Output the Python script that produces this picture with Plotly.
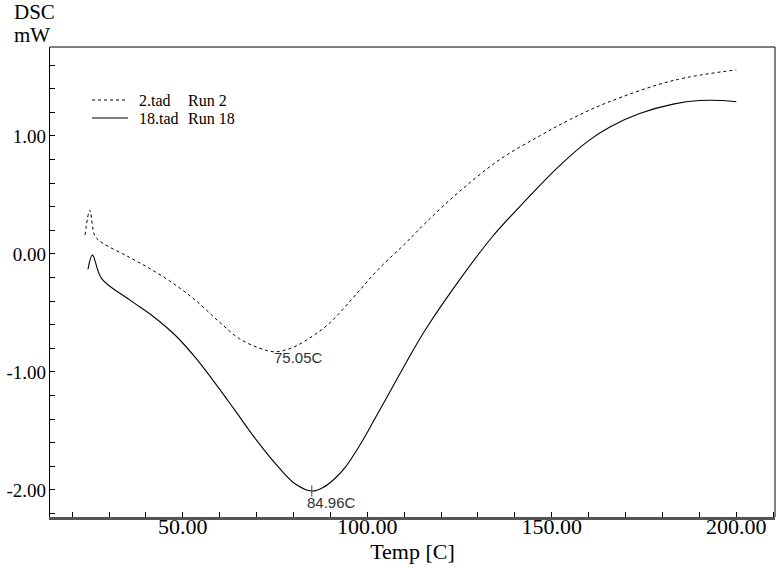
import plotly.graph_objects as go

# DSC curves
temp_run2 = [23.5, 24.8, 26.2, 28.4, 35.6, 41.9, 48.3, 53.7, 60.0, 65.4, 70.9, 75.05, 80.0,
             85.0, 90.0, 96.2, 103.0, 110.0, 116.0, 125.0, 135.9, 146.7, 155.0, 164.8, 182.9, 200.0]
dsc_run2 = [0.16, 0.37, 0.15, 0.09, -0.03, -0.14, -0.27, -0.40, -0.58, -0.72, -0.80, -0.83, -0.79,
            -0.70, -0.58, -0.37, -0.13, 0.08, 0.27, 0.53, 0.80, 1.00, 1.14, 1.28, 1.47, 1.56]

temp_run18 = [24.3, 25.5, 28.0, 35.6, 42.0, 48.3, 53.7, 59.1, 64.0, 70.0, 76.3, 80.5, 84.96, 88.0,
              91.0, 94.0, 98.0, 102.0, 107.0, 112.0, 116.0, 125.0, 134.0, 143.1, 152.2, 160.0, 166.0,
              173.8, 182.9, 190.0, 196.4, 200.0]
dsc_run18 = [-0.13, -0.01, -0.21, -0.39, -0.53, -0.70, -0.89, -1.11, -1.32, -1.58, -1.82, -1.95, -2.01,
             -1.98, -1.91, -1.81, -1.62, -1.40, -1.12, -0.84, -0.63, -0.22, 0.15, 0.46, 0.75, 0.96, 1.08,
             1.19, 1.27, 1.30, 1.30, 1.29]

peak_temps = [75.05, 84.96]
peak_vals = [-0.83, -2.01]
peak_labels = ['75.05C', '84.96C']

y_ticks = [-2, -1, 0, 1]
y_ticktext = ['-2.00', '-1.00', '0.00', '1.00']

legend_files = ['2.tad', '18.tad']
legend_runs = ['Run 2', 'Run 18']

serif = 'Liberation Serif'
sans = 'Liberation Sans'

fig = go.Figure()
fig.add_trace(go.Scatter(x=temp_run2, y=dsc_run2, mode='lines', line_shape='spline',
                         showlegend=False, line=dict(color='black', width=1, dash='dot')))
fig.add_trace(go.Scatter(x=temp_run18, y=dsc_run18, mode='lines', line_shape='spline',
                         showlegend=False, line=dict(color='black', width=1.1)))
fig.add_trace(go.Scatter(x=peak_temps[1:], y=peak_vals[1:], mode='markers', showlegend=False,
                         marker=dict(symbol='line-ns', size=8, line=dict(color='#444', width=1))))

# peak labels
fig.add_annotation(x=peak_temps[0], y=peak_vals[0], text=peak_labels[0], showarrow=False,
                   xanchor='left', yanchor='top', xshift=-3, yshift=5,
                   font=dict(family=sans, size=15, color='#333'))
fig.add_annotation(x=peak_temps[1], y=peak_vals[1], text=peak_labels[1], showarrow=False,
                   xanchor='left', yanchor='top', xshift=-7, yshift=-1,
                   font=dict(family=sans, size=15, color='#333'))

# hand-drawn legend like the instrument software
for i, dash in enumerate(['dot', 'solid']):
    ly = 0.8872 - i * 0.0383
    fig.add_shape(type='line', xref='paper', yref='paper', x0=0.058, x1=0.1076, y0=ly, y1=ly,
                  line=dict(color='black', width=1, dash=dash))
    fig.add_annotation(xref='paper', yref='paper', x=0.1214, y=ly, text=legend_files[i],
                       showarrow=False, xanchor='left', yanchor='middle', borderpad=0,
                       font=dict(family=serif, size=16, color='black'))
    fig.add_annotation(xref='paper', yref='paper', x=0.189, y=ly, text=legend_runs[i],
                       showarrow=False, xanchor='left', yanchor='middle', borderpad=0,
                       font=dict(family=serif, size=16, color='black'))

fig.add_annotation(xref='paper', yref='paper', x=-0.052, y=1.0745, xanchor='left', yanchor='middle',
                   text='DSC', showarrow=False, font=dict(family=serif, size=21, color='black'))
fig.add_annotation(xref='paper', yref='paper', x=-0.052, y=1.0255, xanchor='left', yanchor='middle',
                   text='mW', showarrow=False, font=dict(family=serif, size=21, color='black'))

# frame on top and right
fig.add_shape(type='line', xref='paper', yref='paper', x0=0, x1=1, y0=1, y1=1,
              line=dict(color='black', width=1))
fig.add_shape(type='line', xref='paper', yref='paper', x0=1, x1=1, y0=0, y1=1,
              line=dict(color='black', width=1))

fig.update_layout(
    width=778, height=568,
    margin=dict(l=50, r=3, t=47, b=51),
    plot_bgcolor='white', paper_bgcolor='white',
    font=dict(family=serif, size=20, color='black'),
    showlegend=False,
    xaxis=dict(range=[14.0, 210.5], showline=True, linecolor='#555', linewidth=2.5,
               automargin=False, ticklabelstandoff=-12,
               ticks='inside', ticklen=5, tickcolor='black', tickwidth=1,
               tick0=0, dtick=50, tickformat='.2f', showgrid=False, zeroline=False,
               tickfont=dict(family=serif, size=22),
               minor=dict(dtick=10, ticks='inside', ticklen=5, tickcolor='black', tickwidth=1),
               title=dict(text='Temp [C]', font=dict(family=serif, size=22), standoff=0)),
    yaxis=dict(range=[-2.23, 1.754], showline=True, linecolor='black', linewidth=1.2,
               automargin=False, ticklabelstandoff=-1,
               ticks='inside', ticklen=5, tickcolor='black', tickwidth=1,
               tickvals=y_ticks, ticktext=y_ticktext, showgrid=False, zeroline=False,
               tickfont=dict(family=serif, size=19),
               minor=dict(dtick=0.2, tick0=0, ticks='inside', ticklen=5, tickcolor='black',
                          tickwidth=1)),
)

fig.write_html("out.html", config={'displayModeBar': False},
               post_script="document.body.style.margin='0px';")
